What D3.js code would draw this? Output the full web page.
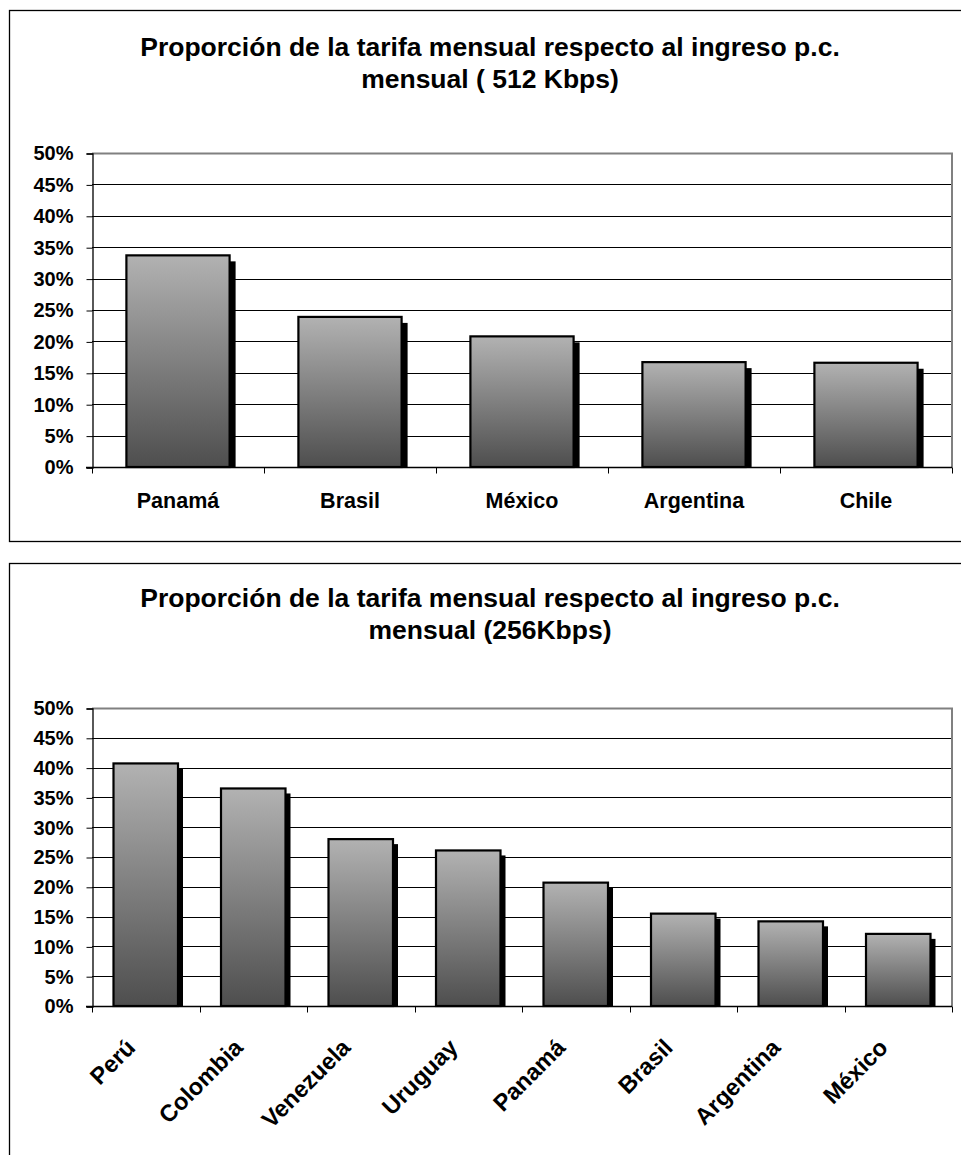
<!DOCTYPE html>
<html>
<head>
<meta charset="utf-8">
<script src="https://cdn.jsdelivr.net/npm/d3@7"></script>
<style>
  body { margin: 0; background: #fff; }
  svg { display: block; font-family: Arial, "Liberation Sans", sans-serif; }
</style>
</head>
<body>
<svg id="chart" width="961" height="1155"></svg>
<script>
// data
const countries512 = ['Panamá', 'Brasil', 'México', 'Argentina', 'Chile'];
const values512 = [0.337, 0.239, 0.208, 0.167, 0.166];

const countries256 = ['Perú', 'Colombia', 'Venezuela', 'Uruguay', 'Panamá', 'Brasil', 'Argentina', 'México'];
const values256 = [0.407, 0.365, 0.280, 0.261, 0.207, 0.155, 0.142, 0.121];

const yTicks = [0, 0.05, 0.1, 0.15, 0.2, 0.25, 0.3, 0.35, 0.4, 0.45, 0.5];

const svg = d3.select('#chart');

// bar gradient (light top, dark bottom)
const grad = svg.append('defs').append('linearGradient')
  .attr('id', 'barGrad')
  .attr('x1', 0).attr('y1', 0).attr('x2', 0).attr('y2', 1);
grad.append('stop').attr('offset', '0%').attr('stop-color', '#b2b2b2');
grad.append('stop').attr('offset', '100%').attr('stop-color', '#4e4e4e');

function drawChart(opts) {
  const g = svg.append('g');

  // outer frame
  g.append('rect')
    .attr('x', 9.5).attr('y', opts.boxTop + 0.5)
    .attr('width', 980).attr('height', opts.boxHeight)
    .attr('fill', 'none').attr('stroke', '#000').attr('stroke-width', 1.3);

  // title
  const title = g.append('text')
    .attr('x', 490).attr('y', opts.titleY)
    .attr('text-anchor', 'middle')
    .style('font-size', '26.5px').style('font-weight', 'bold');
  opts.title.forEach((t, i) => {
    title.append('tspan').attr('x', 490).attr('dy', i === 0 ? 0 : 32).text(t);
  });

  const x = d3.scaleBand()
    .domain(opts.categories)
    .range([92, 952])
    .paddingInner(0.4)
    .paddingOuter(0.2);

  const y = d3.scaleLinear()
    .domain([0, 0.5])
    .range([opts.bottom, opts.top]);

  // gridlines
  g.append('g').selectAll('line')
    .data(yTicks.slice(1, -1))
    .enter().append('line')
    .attr('x1', 92).attr('x2', 952)
    .attr('y1', d => Math.round(y(d)) + 0.5).attr('y2', d => Math.round(y(d)) + 0.5)
    .attr('stroke', '#000').attr('stroke-width', 1);

  // plot border top + right (grey)
  g.append('path')
    .attr('d', `M92,${Math.round(y(0.5)) + 0.5}H952V${Math.round(y(0)) + 0.5}`)
    .attr('fill', 'none').attr('stroke', '#808080').attr('stroke-width', 2);

  // y axis
  const yAxis = g.append('g')
    .attr('transform', 'translate(92.5,0.5)')
    .call(d3.axisLeft(y).tickValues(yTicks).tickFormat(d3.format('.0%')).tickSize(6).tickPadding(13));
  yAxis.select('.domain').attr('stroke', '#000').attr('stroke-width', 1.3);
  yAxis.selectAll('.tick line').attr('stroke', '#000');
  yAxis.selectAll('text')
    .attr('fill', '#000')
    .style('font-size', '20px').style('font-weight', 'bold')
    .style('font-family', 'Arial, "Liberation Sans", sans-serif');

  // x axis baseline + ticks between categories
  const xAxis = g.append('g')
    .attr('transform', `translate(0,${Math.round(y(0)) + 0.5})`);
  xAxis.append('line')
    .attr('x1', 86).attr('x2', 952)
    .attr('stroke', '#000').attr('stroke-width', 1.3);
  const step = x.step();
  xAxis.selectAll('.sep')
    .data(d3.range(opts.categories.length + 1))
    .enter().append('line')
    .attr('x1', i => Math.round(92 + i * step) + 0.5)
    .attr('x2', i => Math.round(92 + i * step) + 0.5)
    .attr('y1', 0).attr('y2', 6)
    .attr('stroke', '#000');

  const data = opts.categories.map((c, i) => ({ name: c, value: opts.values[i] }));

  // shadows
  g.append('g').selectAll('rect')
    .data(data)
    .enter().append('rect')
    .attr('x', d => x(d.name) + opts.shadow)
    .attr('y', d => y(d.value) + opts.shadow)
    .attr('width', x.bandwidth())
    .attr('height', d => y(0) - y(d.value) - opts.shadow)
    .attr('fill', '#000');

  // bars
  g.append('g').selectAll('rect')
    .data(data)
    .enter().append('rect')
    .attr('x', d => x(d.name))
    .attr('y', d => y(d.value))
    .attr('width', x.bandwidth())
    .attr('height', d => y(0) - y(d.value))
    .attr('fill', 'url(#barGrad)')
    .attr('stroke', '#000').attr('stroke-width', 2.2);

  // category labels
  const labels = g.append('g').selectAll('text')
    .data(opts.categories)
    .enter().append('text')
    .style('font-size', opts.rotate ? '23.5px' : '21.5px').style('font-weight', 'bold')
    .text(d => d);

  if (opts.rotate) {
    labels
      .attr('text-anchor', 'end')
      .attr('transform', d => `translate(${x(d) + x.bandwidth() / 2 - 9},${opts.bottom + 43}) rotate(-45)`);
  } else {
    labels
      .attr('text-anchor', 'middle')
      .attr('x', d => x(d) + x.bandwidth() / 2)
      .attr('y', opts.bottom + 41);
  }
}

drawChart({
  boxTop: 10, boxHeight: 531,
  titleY: 56,
  title: ['Proporción de la tarifa mensual respecto al ingreso p.c.', 'mensual ( 512 Kbps)'],
  categories: countries512, values: values512,
  top: 153, bottom: 467,
  shadow: 6, rotate: false
});

drawChart({
  boxTop: 563, boxHeight: 620,
  titleY: 607,
  title: ['Proporción de la tarifa mensual respecto al ingreso p.c.', 'mensual (256Kbps)'],
  categories: countries256, values: values256,
  top: 708, bottom: 1006,
  shadow: 5, rotate: true
});
</script>
</body>
</html>
